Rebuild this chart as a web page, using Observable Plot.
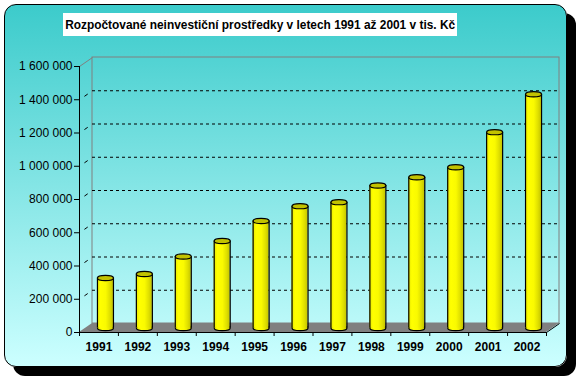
<!DOCTYPE html>
<html><head><meta charset="utf-8">
<script src="https://cdn.jsdelivr.net/npm/d3@7"></script>
<script src="https://cdn.jsdelivr.net/npm/@observablehq/plot@0.6"></script>
<style>
html,body{margin:0;padding:0;background:#fff;}
#wrap{position:relative;width:577px;height:380px;overflow:hidden;font-family:"Liberation Sans",Arial,sans-serif;}
#frame{position:absolute;left:4px;top:4px;width:561px;height:361px;border:1px solid #000;border-radius:12px;box-shadow:9px 9px 0 #000;background:linear-gradient(to bottom,#3ccbcb 0%,#ccffff 100%);}
#title{position:absolute;left:63px;top:13px;width:394px;height:23px;background:#fff;display:flex;align-items:center;justify-content:center;}
#tt{font-weight:bold;font-size:13px;white-space:nowrap;display:inline-block;transform-origin:center;color:#000;}
#chart{position:absolute;left:0;top:0;}
</style></head>
<body>
<div id="wrap"><div id="frame"></div><div id="title"><span id="tt"></span></div><div id="chart"></div></div>
<script>
// ---- data ----
const titleText = "Rozpočtované neinvestiční prostředky v letech 1991 až 2001 v tis. Kč";
const years = [1991, 1992, 1993, 1994, 1995, 1996, 1997, 1998, 1999, 2000, 2001, 2002];
const values = [301000, 325000, 430000, 523000, 644000, 733000, 757000, 857000, 907000, 967000, 1178000, 1406000];
const yTicks = [0, 200000, 400000, 600000, 800000, 1000000, 1200000, 1400000, 1600000];

// ---- layout ----
const W = 577, H = 380;
const mL = 79, mR = 31, mT = 66, mB = 48;
const xMin = years[0] - 0.5, xMax = years[years.length - 1] + 0.5;
const yMax = yTicks[yTicks.length - 1];
const depthX = 13, depthY = 9;           // pixel depth of 3D box
const ddx = depthX * (xMax - xMin) / (W - mL - mR);
const ddy = depthY * yMax / (H - mT - mB);
const bandPx = (W - mL - mR) / years.length;
const barW = 16;
const barInset = (bandPx - barW) / 2;
const bdx = depthX / 2, bdy = -depthY / 2;

const data = years.map((year, i) => ({year, value: values[i]}));
const gridVals = yTicks.filter(t => t > 0 && t < yMax);
const boundaries = d3.range(years.length + 1).map(i => xMin + i);

const loc = d3.formatLocale({decimal: ",", thousands: " ", grouping: [3], currency: ["", ""]});
const fmt = loc.format(",d");

const ellipse = {
  draw(ctx) {
    const rx = 8, ry = 2.6, k = 0.5523;
    ctx.moveTo(rx, 0);
    ctx.bezierCurveTo(rx, ry * k, rx * k, ry, 0, ry);
    ctx.bezierCurveTo(-rx * k, ry, -rx, ry * k, -rx, 0);
    ctx.bezierCurveTo(-rx, -ry * k, -rx * k, -ry, 0, -ry);
    ctx.bezierCurveTo(rx * k, -ry, rx, -ry * k, rx, 0);
    ctx.closePath();
  }
};

const floor = [
  {x: xMin, y1: 0, y2: 0},
  {x: xMin + ddx, y1: 0, y2: ddy},
  {x: xMax, y1: 0, y2: ddy},
  {x: xMax + ddx, y1: ddy, y2: ddy}
];

const chart = Plot.plot({
  width: W, height: H,
  marginLeft: mL, marginRight: mR, marginTop: mT, marginBottom: mB,
  style: {background: "transparent", fontFamily: "'Liberation Sans', Arial, sans-serif", fontSize: "12px", color: "#000", overflow: "visible"},
  x: {type: "linear", domain: [xMin, xMax], label: null},
  y: {domain: [0, yMax], label: null},
  marks: [
    // back wall
    Plot.rect([{}], {x1: () => xMin, x2: () => xMax, y1: () => 0, y2: () => yMax, dx: depthX, dy: -depthY, fill: "none", stroke: "#808080"}),
    // grid lines on back wall
    Plot.ruleY(gridVals, {y: d => d, x1: () => xMin, x2: () => xMax, dx: depthX, dy: -depthY, stroke: "#000", strokeDasharray: "3,3", strokeWidth: 1}),
    // side wall grid remnants
    Plot.link(gridVals, {x1: () => xMin, y1: d => d, x2: () => xMin + ddx, y2: d => d + ddy, stroke: "#000", strokeDasharray: "0,6,4,12"}),
    Plot.link([yMax], {x1: () => xMin, y1: d => d, x2: () => xMin + ddx, y2: d => d + ddy, stroke: "#808080"}),
    // floor
    Plot.areaY(floor, {x: "x", y1: "y1", y2: "y2", fill: "#808080"}),
    Plot.link([0], {x1: () => xMax, y1: () => 0, x2: () => xMax + ddx, y2: () => ddy, stroke: "#000"}),
    // axis lines
    Plot.ruleX([xMin], {y1: 0, y2: yMax, stroke: "#000"}),
    Plot.ruleY([0], {x1: xMin, x2: xMax, stroke: "#000"}),
    Plot.axisY({ticks: yTicks, tickSize: 5, tickPadding: 2, tickFormat: fmt, label: null, fontSize: 12}),
    Plot.axisX({ticks: boundaries, tickSize: 4, tickFormat: () => "", label: null}),
    Plot.axisX({ticks: years, tickSize: 0, tickPadding: 10, tickFormat: d => String(d), label: null, fontWeight: "bold", fontSize: 12}),
    // cylinders
    Plot.dot(data, {x: "year", y: () => 0, symbol: ellipse, fill: "url(#cyl)", stroke: "#000", strokeWidth: 1.2, dx: bdx, dy: bdy}),
    Plot.rect(data, {x1: d => d.year - 0.5, x2: d => d.year + 0.5, y1: () => 0, y2: "value", insetLeft: barInset, insetRight: barInset, fill: "url(#cyl)", dx: bdx, dy: bdy}),
    Plot.ruleX(data, {x: "year", y1: () => 0, y2: "value", dx: bdx - barW / 2, dy: bdy, stroke: "#000", strokeWidth: 1.2}),
    Plot.ruleX(data, {x: "year", y1: () => 0, y2: "value", dx: bdx + barW / 2, dy: bdy, stroke: "#000", strokeWidth: 1.2}),
    Plot.dot(data, {x: "year", y: "value", symbol: ellipse, fill: "#c2c200", stroke: "#000", strokeWidth: 1.2, dx: bdx, dy: bdy})
  ]
});

const svg = d3.select(chart);
const defs = svg.insert("defs", ":first-child");
const g = defs.append("linearGradient").attr("id", "cyl").attr("x1", "0").attr("x2", "1").attr("y1", "0").attr("y2", "0");
[["0%", "#e4e400"], ["22%", "#ffff00"], ["55%", "#fafa00"], ["80%", "#e0e000"], ["100%", "#c4c400"]].forEach(([o, c]) => g.append("stop").attr("offset", o).attr("stop-color", c));

document.getElementById("chart").appendChild(chart);

const tt = document.getElementById("tt");
tt.textContent = titleText;
const tw = tt.getBoundingClientRect().width;
tt.style.transform = `scaleX(${390 / tw})`;
</script>
</body></html>
